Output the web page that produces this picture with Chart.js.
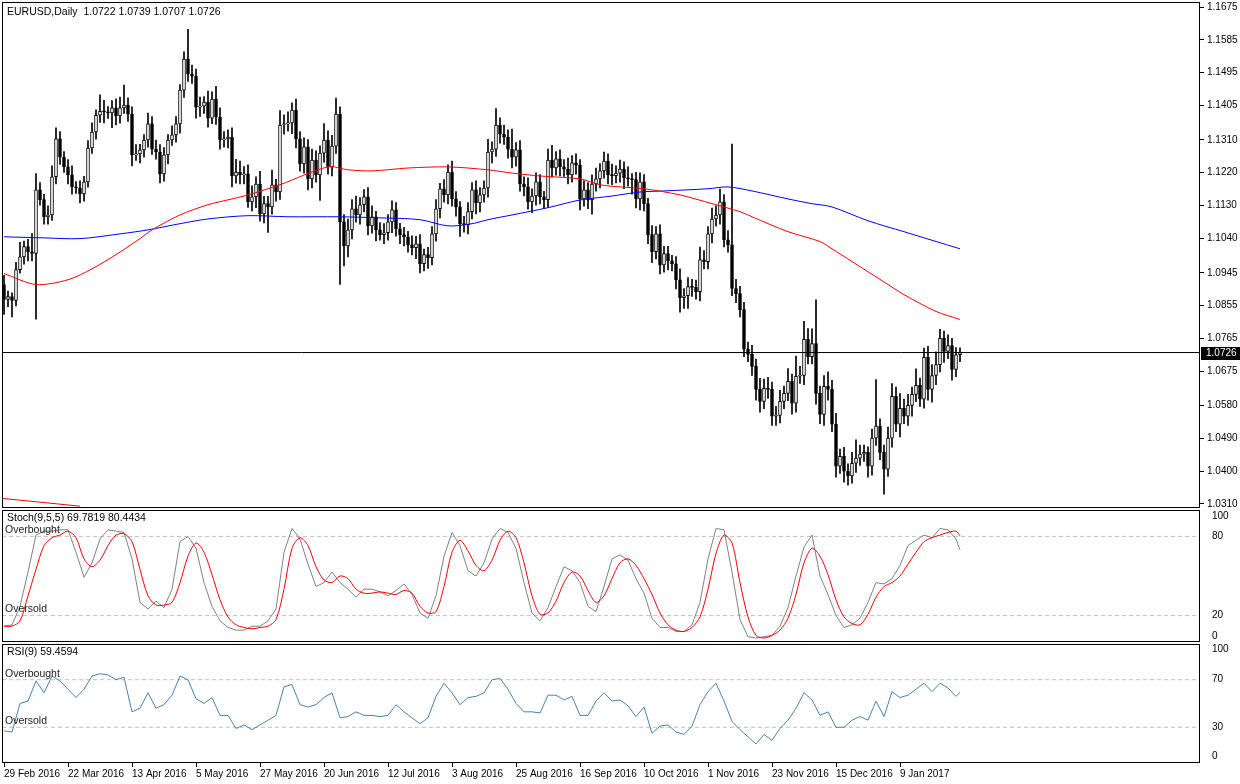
<!DOCTYPE html>
<html><head><meta charset="utf-8">
<script src="https://cdn.jsdelivr.net/npm/chart.js@4.4.1/dist/chart.umd.min.js"></script>
<style>
html,body{margin:0;padding:0;background:#fff;width:1240px;height:784px;overflow:hidden;position:relative}
canvas{position:absolute;left:0}
</style></head><body>
<canvas id="cMain" width="1240" height="524" style="top:-7px"></canvas>
<canvas id="cStoch" width="1240" height="152" style="top:500px"></canvas>
<canvas id="cRsi" width="1240" height="150" style="top:634px"></canvas>
<script>
// ---------- DATA ----------
const dateLabels = ['29 Feb 2016','22 Mar 2016','13 Apr 2016','5 May 2016','27 May 2016','20 Jun 2016','12 Jul 2016','3 Aug 2016','25 Aug 2016','16 Sep 2016','10 Oct 2016','1 Nov 2016','23 Nov 2016','15 Dec 2016','9 Jan 2017'];
const priceTicks = [1.0310,1.0400,1.0490,1.0580,1.0675,1.0765,1.0855,1.0945,1.1040,1.1130,1.1220,1.1310,1.1405,1.1495,1.1585,1.1675];
const firstOpen = 1.0913;
const closes = [
1.0872,1.0880,1.0869,1.0954,1.0989,1.1017,1.1003,1.0998,1.1173,1.1146,
1.1099,1.1104,1.1209,1.1313,1.1263,1.1236,1.1214,1.1181,1.1178,1.1162,
1.1195,1.1288,1.1332,1.1378,1.1389,1.1387,1.1384,1.1398,1.1376,1.1398,
1.1406,1.1381,1.1269,1.1272,1.1283,1.1310,1.1354,1.1285,1.1277,1.1217,
1.1269,1.1310,1.1324,1.1354,1.1447,1.1532,1.1491,1.1485,1.1400,1.1403,
1.1414,1.1370,1.1422,1.1373,1.1310,1.1313,1.1318,1.1211,1.1222,1.1214,
1.1217,1.1140,1.1154,1.1189,1.1107,1.1135,1.1126,1.1187,1.1167,1.1351,
1.1354,1.1357,1.1392,1.1313,1.1244,1.1291,1.1203,1.1255,1.1214,1.1274,
1.1310,1.1236,1.1293,1.1381,1.1085,1.1019,1.1063,1.1121,1.1104,1.1132,
1.1154,1.1074,1.1099,1.1063,1.1050,1.1055,1.1085,1.1118,1.1066,1.1050,
1.1044,1.1022,1.1014,1.1025,1.0970,1.0995,1.0987,1.1052,1.1121,1.1176,
1.1159,1.1222,1.1148,1.1126,1.1080,1.1077,1.1113,1.1173,1.1137,1.1159,
1.1178,1.1277,1.1285,1.1351,1.1326,1.1318,1.1285,1.1263,1.1283,1.1189,
1.1181,1.1140,1.1156,1.1195,1.1154,1.1146,1.1255,1.1233,1.1258,1.1236,
1.1230,1.1214,1.1247,1.1241,1.1148,1.1173,1.1146,1.1189,1.1203,1.1225,
1.1252,1.1214,1.1212,1.1219,1.1230,1.1206,1.1203,1.1201,1.1148,1.1195,
1.1135,1.1050,1.1003,1.1052,1.0967,1.0998,1.0978,1.0970,1.0926,1.0877,
1.0882,1.0907,1.0905,1.0893,1.0981,1.0976,1.1052,1.1093,1.1104,1.1140,
1.1036,1.1022,1.0902,1.0888,1.0844,1.0735,1.0721,1.0688,1.0625,1.0592,
1.0628,1.0625,1.0551,1.0553,1.0592,1.0614,1.0647,1.0587,1.0661,1.0663,
1.0762,1.0715,1.0751,1.0614,1.0556,1.0633,1.0625,1.0529,1.0414,1.0441,
1.0400,1.0387,1.0422,1.0436,1.0447,1.0452,1.0414,1.0491,1.0524,1.0452,
1.0406,1.0491,1.0606,1.0529,1.0573,1.0551,1.0581,1.0611,1.0636,1.0598,
1.0713,1.0625,1.0663,1.0693,1.0765,1.0729,1.0745,1.0680,1.0720,1.0726];
// upper / lower shadow lengths in pips
const upperWickPips = [
25,15,10,20,40,15,20,50,45,20, 15,25,30,30,20,15,20,25,15,20, 15,20,25,15,45,30,15,20,25,30,
55,20,20,25,15,15,30,20,25,20, 20,15,25,20,15,20,82,25,20,25, 15,30,20,35,25,20,20,25,35,30,
20,25,30,20,35,20,20,40,15,40, 25,30,20,30,20,25,20,30,25,20, 45,25,30,44,20,20,30,25,35,20,
20,25,30,15,20,25,20,25,20,15, 20,15,25,20,25,15,20,20,25,15, 25,20,30,20,15,20,25,20,25,20,
20,35,20,45,20,25,20,55,20,25, 20,25,20,25,20,15,30,40,20,25, 20,30,20,25,15,25,20,25,30,20,
25,20,30,20,25,20,30,15,20,25, 20,15,25,20,25,20,20,15,20,30, 20,25,20,20,35,25,20,30,25,35,
20,25,277,25,20,20,20,25,20,30, 25,30,20,25,30,20,35,20,55,25, 50,30,40,120,20,30,40,25,30,20,
25,20,30,50,25,20,15,25,128,20, 20,30,35,25,40,25,30,20,45,20, 25,30,30,35,25,20,30,20,20,13];
const lowerWickPips = [
41,20,45,15,10,20,25,20,180,15, 20,20,15,20,20,15,25,20,15,25, 20,15,15,20,20,30,15,40,25,20,
15,20,30,15,25,20,20,15,20,25, 20,25,15,20,25,20,20,20,30,25, 20,25,15,20,25,20,25,30,20,25,
25,15,25,30,20,25,70,20,25,20, 25,20,30,25,20,25,30,25,20,70, 25,20,25,20,172,55,30,25,20,25,
20,25,20,30,15,25,20,30,20,25, 25,20,20,30,25,20,30,20,20,25, 20,25,20,25,35,20,25,20,30,25,
20,25,30,20,25,20,25,30,25,20, 25,20,30,25,20,25,20,25,20,25, 20,25,20,25,30,20,25,40,20,25,
20,25,25,20,25,30,20,40,25,30, 20,25,30,20,25,20,25,20,25,40, 30,35,25,20,25,20,20,25,20,25,
20,20,20,25,20,20,20,25,30,30, 20,25,25,25,20,20,20,30,25,20, 25,20,20,30,25,30,30,20,30,20,
30,25,20,25,20,20,30,25,20,20, 69,20,25,20,35,20,25,30,20,20, 25,30,35,25,20,30,20,30,20,19];
// moving averages read at sample bars
const maRedIdx = [0,8,16,22,28,34,37,44,51,57,61,69,81,86,92,101,111,121,127,134,144,149,154,160,169,177,184,187,196,204,207,212,221,225,233,239];
const maRedVal = [1.0943,1.0913,1.0926,1.0956,1.0995,1.1039,1.1063,1.1104,1.1132,1.1148,1.1159,1.1187,1.1236,1.1228,1.1225,1.1233,1.1236,1.1228,1.1219,1.1211,1.1203,1.1187,1.1181,1.1176,1.1159,1.1135,1.1113,1.1099,1.1058,1.1031,1.1011,1.0976,1.0913,1.0885,1.0839,1.0817];
const maBlueIdx = [0,10,19,29,36,44,51,61,71,84,94,104,111,117,121,127,136,144,152,159,165,176,181,187,196,202,207,216,225,239];
const maBlueVal = [1.1044,1.1041,1.1039,1.1052,1.1063,1.1080,1.1093,1.1102,1.1099,1.1099,1.1096,1.1091,1.1074,1.1080,1.1091,1.1104,1.1124,1.1145,1.1156,1.1167,1.1170,1.1176,1.1181,1.1170,1.1148,1.1135,1.1126,1.1088,1.1058,1.1011];
const maLowIdx = [-1,19];
const maLowVal = [1.0326,1.0304];
const lastPrice = 1.0726;
// oscillators: every 2nd bar (0,2,...,238) plus the last bar 239
const stochK = [12,13,27,53,81,84,84,85,85,68, 49,60,78,85,84,83,63,30,25,31, 26,40,76,80,71,45,27,16,11,9,
 9,12,12,16,25,68,86,78,59,42, 45,53,45,40,34,40,40,38,35,39, 44,36,22,18,35,65,83,73,54,50,
 60,78,86,83,71,45,22,16,26,42, 57,54,45,27,23,42,63,66,62,48, 37,18,11,11,8,8,13,30,63,86,
 85,53,17,4,3,4,5,12,26,50, 72,81,50,36,20,11,13,18,30,45, 44,48,58,73,77,81,79,86,85,78, 69.78];
const stochD = [12,12,16,35,55,73,79,81,84,79, 63,57,62,73,81,82,76,55,35,28, 28,30,45,65,75,68,51,32,19,13,
 11,10,11,12,17,40,71,79,73,57, 47,45,50,48,40,37,37,38,37,36, 39,37,27,22,23,42,68,77,69,58,
 54,62,77,84,79,60,35,21,22,31, 45,53,50,39,30,35,48,60,63,58, 48,36,22,13,9,8,11,19,40,67,
 81,75,45,19,5,3,5,9,18,36, 60,71,65,51,32,19,14,13,21,34, 42,45,50,59,68,76,79,81,83,84, 80.44];
const rsi = [27,26,50,52,69,59,73,69,62,55, 62,73,75,74,70,72,43,46,59,46, 49,57,73,70,54,50,55,40,40,29,
 32,28,32,36,40,64,66,49,47,49, 55,59,38,39,43,40,40,39,40,49, 43,38,33,38,56,67,59,49,55,56,
 59,70,71,62,50,43,43,42,57,57, 53,56,40,40,52,59,52,53,48,39, 47,25,31,32,26,24,31,49,60,67,
 52,35,28,22,16,24,19,29,36,46, 59,53,40,43,30,30,36,39,36,52, 39,60,55,57,62,67,60,67,63,56, 59.46];
const stochLevels = [80,20];
const rsiLevels = [70,30];
const stochTickLabels = {95.4:'100',80:'80',20:'20',4.6:'0'};
const rsiTickLabels = {95.5:'100',70:'70',30:'30',5.7:'0'};

// ---------- BUILD ----------
Chart.defaults.font.family = "'Liberation Sans', Arial, sans-serif";
Chart.defaults.font.size = 10;
Chart.defaults.color = '#000';
const XMIN = -0.5, XMAX = 299;
const opens = closes.map((c,i)=> i===0 ? firstOpen : closes[i-1]);
const wicks = closes.map((c,i)=>({x:i, y:[Math.min(opens[i],c)-lowerWickPips[i]/10000, Math.max(opens[i],c)+upperWickPips[i]/10000]}));
const bodies = closes.map((c,i)=>({x:i, y:[opens[i], c]}));
const bodyFill = closes.map((c,i)=> c>=opens[i] ? '#ffffff' : '#000000');
const oscX = k => k < 120 ? k*2 : 239;
const pts = (arr)=>arr.map((v,k)=>({x:oscX(k), y:v}));
const pairs = (ix,vals)=>ix.map((x,k)=>({x:x,y:vals[k]}));
const hline = v=>[{x:XMIN,y:v},{x:XMAX,y:v}];

function frame(extra){
  return {id:'frame', afterDraw(chart){
    const ctx=chart.ctx, a=chart.chartArea;
    ctx.save(); ctx.strokeStyle='#000'; ctx.lineWidth=1;
    ctx.strokeRect(Math.round(a.left)+0.5, Math.round(a.top)+0.5, Math.round(a.right-a.left)-1, Math.round(a.bottom-a.top)-1);
    if(extra) extra(chart, ctx, a);
    ctx.restore();
  }};
}
const yFit = s=>{ s.width = 40; };
const baseX = (show)=>({type:'linear', min:XMIN, max:XMAX, display:show, offset:false});
const common = {responsive:false, animation:false, devicePixelRatio:1, events:[],
  plugins:{legend:{display:false}, tooltip:{enabled:false}}};
const lineDs = (data,color,extra)=>Object.assign({type:'line', data, borderColor:color, borderWidth:1, pointRadius:0, tension:0, fill:false}, extra||{});

// main chart
new Chart(document.getElementById('cMain'), {
  type:'bar',
  data:{datasets:[
    lineDs(hline(lastPrice),'#000',{order:0}),
    lineDs(pairs(maRedIdx,maRedVal),'#ff0000',{order:1, tension:0.3}),
    lineDs(pairs(maBlueIdx,maBlueVal),'#0000ff',{order:1, tension:0.3}),
    lineDs(pairs(maLowIdx,maLowVal),'#ff0000',{order:1}),
    {type:'bar', data:bodies, backgroundColor:bodyFill, borderColor:'#000', borderWidth:1, borderSkipped:false, barThickness:3, grouped:false, minBarLength:1, order:2},
    {type:'bar', data:wicks, backgroundColor:'#000', borderWidth:0, barThickness:1, grouped:false, order:3}
  ]},
  options:Object.assign({}, common, {
    layout:{padding:{left:2, top:0, bottom:0, right:0}},
    scales:{
      x: baseX(false),
      y:{position:'right', min:1.0299, max:1.1689, afterFit:yFit,
        afterBuildTicks:s=>{ s.ticks = priceTicks.map(v=>({value:v})); },
        ticks:{callback:v=>v.toFixed(4), padding:3, font:{size:10}},
        grid:{drawOnChartArea:false, tickLength:4, color:'#000'}, border:{display:false}}
    }
  }),
  plugins:[frame((chart,ctx,a)=>{
    ctx.font="10.5px 'Liberation Sans', Arial"; ctx.fillStyle='#000'; ctx.textBaseline='middle';
    ctx.fillText('EURUSD,Daily  1.0722 1.0739 1.0707 1.0726', 7, a.top+10);
    const y = chart.scales.y.getPixelForValue(lastPrice);
    ctx.fillStyle='#000'; ctx.fillRect(1201, Math.round(y)-6, 39, 13);
    ctx.fillStyle='#fff'; ctx.font="10px 'Liberation Sans', Arial";
    ctx.fillText(lastPrice.toFixed(4), 1206, Math.round(y)+0.5);
  })]
});

function oscChart(id, datasets, levels, tickMap, title, pad, showX){
  const tickVals = Object.keys(tickMap).map(Number);
  const ds = datasets.concat(levels.map(l=>lineDs(hline(l),'#c0c0c0',{borderDash:[4,3], order:5})));
  return new Chart(document.getElementById(id), {
    type:'line', data:{datasets:ds},
    options:Object.assign({}, common, {
      layout:{padding:pad},
      scales:{
        x: showX ? {type:'linear', min:XMIN, max:XMAX, offset:false,
             afterBuildTicks:s=>{ s.ticks = dateLabels.map((d,k)=>({value:k*16})); },
             afterFit:s=>{ s.height = 21; },
             ticks:{align:'start', maxRotation:0, autoSkip:false, padding:1, font:{size:10},
               callback:(v)=>dateLabels[Math.round(v/16)]},
             grid:{drawOnChartArea:false, tickLength:4, color:'#000'}, border:{display:false}}
          : baseX(false),
        y:{position:'right', min:0, max:100, afterFit:yFit,
          afterBuildTicks:s=>{ s.ticks = tickVals.map(v=>({value:v})); },
          ticks:{callback:v=>tickMap[v], padding:4, font:{size:10}},
          grid:{display:false}, border:{display:false}}
      }
    }),
    plugins:[frame((chart,ctx,a)=>{
      ctx.font="10.5px 'Liberation Sans', Arial"; ctx.fillStyle='#000'; ctx.textBaseline='middle';
      ctx.fillText(title, 7, a.top+8);
      ctx.fillStyle='#222';
      const ys = chart.scales.y;
      ctx.fillText('Overbought', 5, ys.getPixelForValue(levels[0])-6);
      ctx.fillText('Oversold', 5, ys.getPixelForValue(levels[1])-6);
    })]
  });
}
oscChart('cStoch', [
  lineDs(pts(stochD),'#ff0000',{order:1, tension:0.3}),
  lineDs(pts(stochK),'#808080',{order:2})
], stochLevels, stochTickLabels, 'Stoch(9,5,5) 69.7819 80.4434', {left:2, top:0, bottom:0, right:0}, false);
oscChart('cRsi', [
  lineDs(pts(rsi),'#4682b4',{order:1})
], rsiLevels, rsiTickLabels, 'RSI(9) 59.4594', {left:2, top:0, bottom:0, right:0}, true);
</script></body></html>
